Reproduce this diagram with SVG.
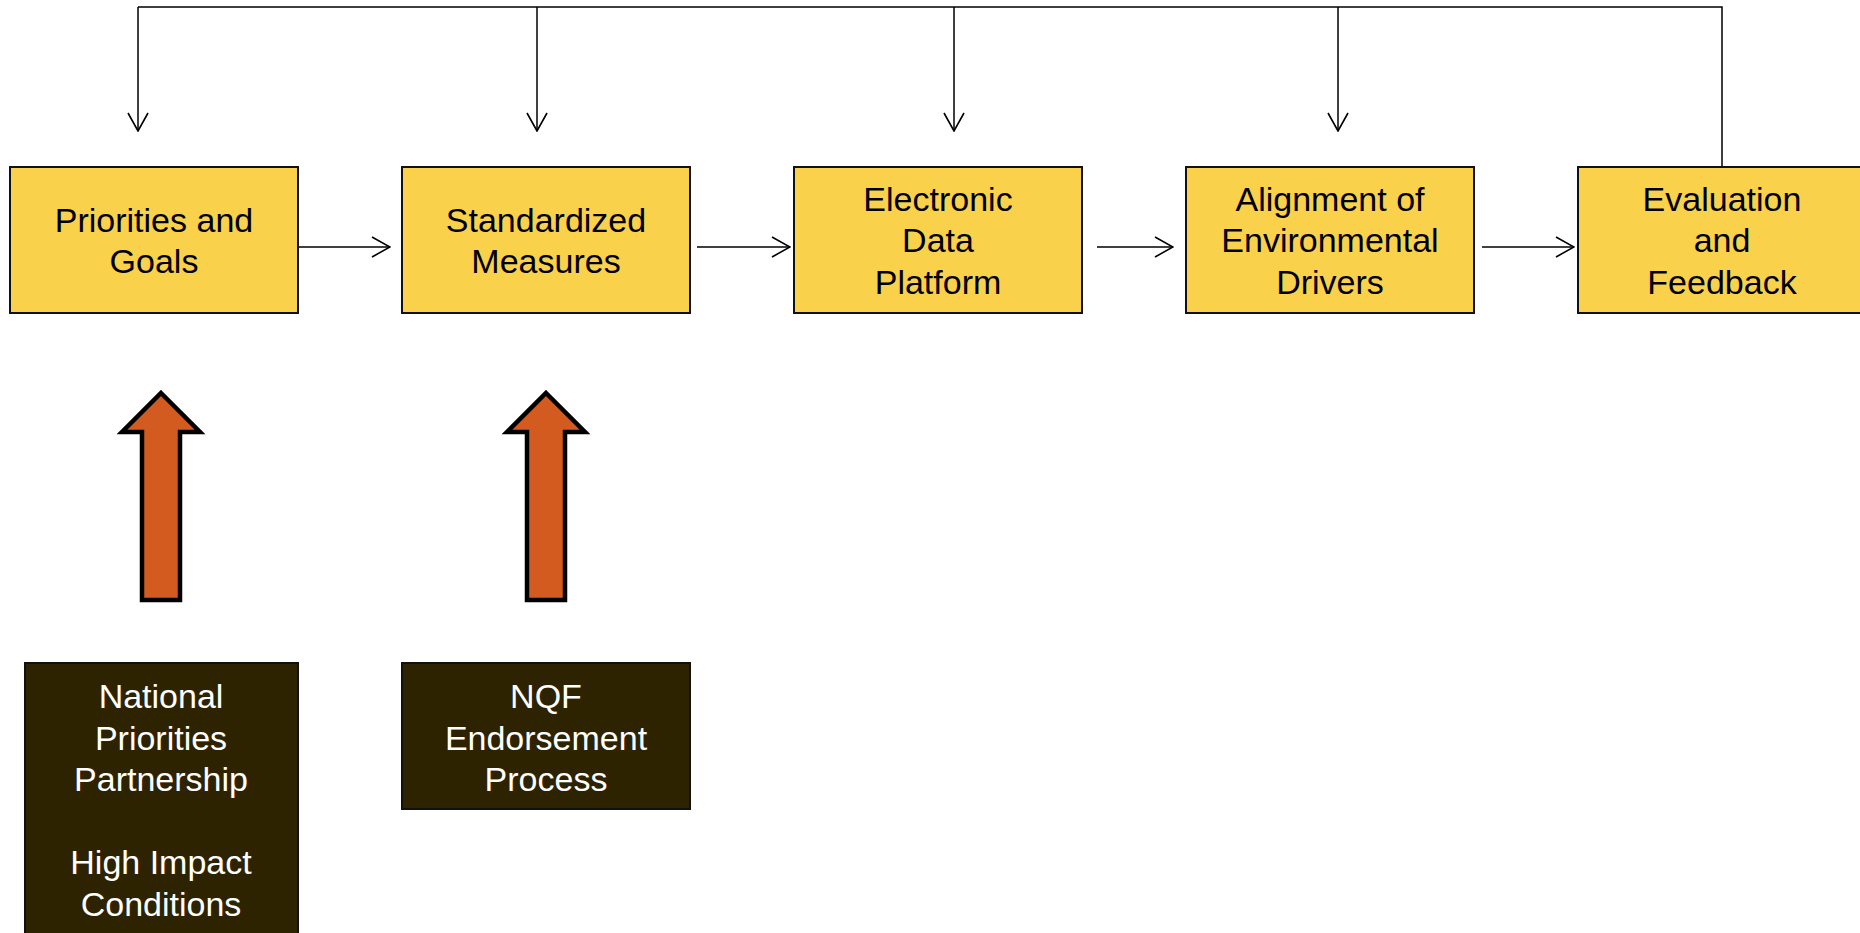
<svg xmlns="http://www.w3.org/2000/svg" width="1860" height="933" viewBox="0 0 1860 933">
<style>
.box{fill:#F9D14B;stroke:#111;stroke-width:2}
.dark{fill:#2D2301;stroke:#111;stroke-width:2}
.t{font-family:"Liberation Sans",Arial,sans-serif;font-size:34px;text-anchor:middle;fill:#000}
.w{fill:#fff}
.c{fill:none;stroke:#000;stroke-width:1.5}
.up{fill:#D45B20;stroke:#000;stroke-width:4.5}
</style>
<defs>
<marker id="ah" markerUnits="userSpaceOnUse" viewBox="0 0 20 22" refX="19" refY="11" markerWidth="20" markerHeight="22" orient="auto">
<path d="M1,1 L19,11 L1,21" fill="none" stroke="#000" stroke-width="1.6"/>
</marker>
</defs>
<rect width="1860" height="933" fill="#fff"/>
<g id="connectors">
<path class="c" d="M1722,167 V7 H138"/>
<path class="c" d="M138,7 V131" marker-end="url(#ah)"/>
<path class="c" d="M537,7 V131" marker-end="url(#ah)"/>
<path class="c" d="M954,7 V131" marker-end="url(#ah)"/>
<path class="c" d="M1338,7 V131" marker-end="url(#ah)"/>
<path class="c" d="M298,247 H390" marker-end="url(#ah)"/>
<path class="c" d="M697,247 H790" marker-end="url(#ah)"/>
<path class="c" d="M1097,247 H1173" marker-end="url(#ah)"/>
<path class="c" d="M1482,247 H1574" marker-end="url(#ah)"/>
</g>
<g id="n1">
<rect class="box" x="10" y="167" width="288" height="146"/>
<text class="t" x="154" y="232">Priorities and</text>
<text class="t" x="154" y="273">Goals</text>
</g>
<g id="n2">
<rect class="box" x="402" y="167" width="288" height="146"/>
<text class="t" x="546" y="232">Standardized</text>
<text class="t" x="546" y="273">Measures</text>
</g>
<g id="n3">
<rect class="box" x="794" y="167" width="288" height="146"/>
<text class="t" x="938" y="211">Electronic</text>
<text class="t" x="938" y="252">Data</text>
<text class="t" x="938" y="294">Platform</text>
</g>
<g id="n4">
<rect class="box" x="1186" y="167" width="288" height="146"/>
<text class="t" x="1330" y="211">Alignment of</text>
<text class="t" x="1330" y="252">Environmental</text>
<text class="t" x="1330" y="294">Drivers</text>
</g>
<g id="n5">
<rect class="box" x="1578" y="167" width="288" height="146"/>
<text class="t" x="1722" y="211">Evaluation</text>
<text class="t" x="1722" y="252">and</text>
<text class="t" x="1722" y="294">Feedback</text>
</g>
<g id="arrow1">
<path class="up" d="M161,393 L200,432 H180 V600 H142 V432 H122 Z"/>
</g>
<g id="arrow2">
<path class="up" d="M546,393 L585,432 H565 V600 H527 V432 H507 Z"/>
</g>
<g id="s1">
<rect class="dark" x="25" y="663" width="273" height="280"/>
<text class="t w" x="161" y="708">National</text>
<text class="t w" x="161" y="750">Priorities</text>
<text class="t w" x="161" y="791">Partnership</text>
<text class="t w" x="161" y="874">High Impact</text>
<text class="t w" x="161" y="916">Conditions</text>
</g>
<g id="s2">
<rect class="dark" x="402" y="663" width="288" height="146"/>
<text class="t w" x="546" y="708">NQF</text>
<text class="t w" x="546" y="750">Endorsement</text>
<text class="t w" x="546" y="791">Process</text>
</g>
</svg>
